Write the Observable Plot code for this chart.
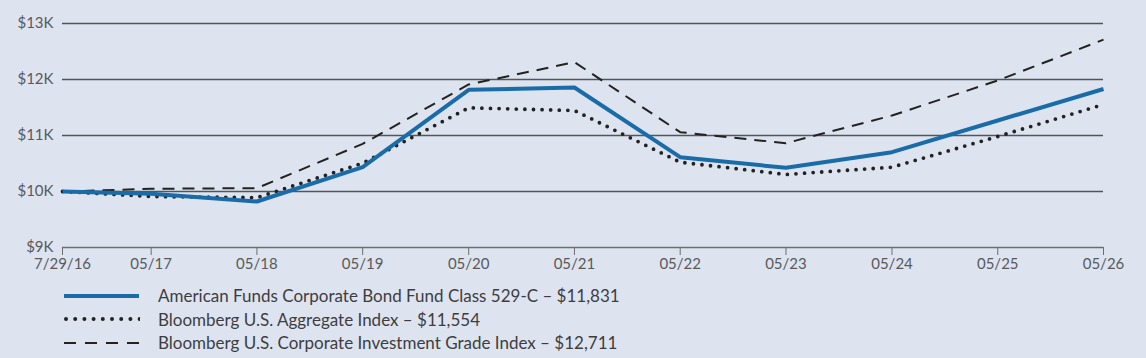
<!DOCTYPE html>
<html>
<head>
<meta charset="utf-8">
<script src="https://cdn.jsdelivr.net/npm/d3@7"></script>
<script src="https://cdn.jsdelivr.net/npm/@observablehq/plot@0.6"></script>
<style>
  html, body { margin: 0; padding: 0; background: #dde4f0; }
  body { width: 1146px; height: 358px; overflow: hidden; font-family: Lato, sans-serif; }
  #legend { position: absolute; left: 64px; top: 284px; }
  .item { display: flex; align-items: center; height: 23.5px; font-size: 17px; color: #3d3d3f; }
  .item svg { margin-right: 18px; flex: none; }
</style>
</head>
<body>
<div id="chart"></div>
<div id="legend"></div>
<script>
const dates = ["2016-07-29","2017-05-31","2018-05-31","2019-05-31","2020-05-31","2021-05-31","2022-05-31","2023-05-31","2024-05-31","2025-05-31","2026-05-31"];
const tickLabels = ["7/29/16","05/17","05/18","05/19","05/20","05/21","05/22","05/23","05/24","05/25","05/26"];
const fundValues = [10000, 9960, 9821, 10434, 11816, 11857, 10613, 10423, 10702, 11268, 11831];
const aggValues  = [10000, 9911, 9890, 10505, 11494, 11446, 10523, 10304, 10434, 10982, 11554];
const corpValues = [10000, 10048, 10060, 10850, 11911, 12309, 11059, 10863, 11357, 11982, 12711];
const seriesNames = [
  "American Funds Corporate Bond Fund Class 529-C \u2013 $11,831",
  "Bloomberg U.S. Aggregate Index \u2013 $11,554",
  "Bloomberg U.S. Corporate Investment Grade Index \u2013 $12,711"
];
const yTicks = [9000, 10000, 11000, 12000, 13000];

const parse = d3.utcParse("%Y-%m-%d");
const toRows = vals => dates.map((d, i) => ({date: parse(d), value: vals[i]}));
const fund = toRows(fundValues), agg = toRows(aggValues), corp = toRows(corpValues);
const tickDates = dates.map(parse);
const labelOf = new Map(tickDates.map((d, i) => [+d, tickLabels[i]]));

const styles = [
  {stroke: "#1a6ca8", strokeWidth: 4, strokeDasharray: null, strokeLinecap: "butt"},
  {stroke: "#222", strokeWidth: 3.8, strokeDasharray: "0,8.6", strokeLinecap: "round"},
  {stroke: "#222", strokeWidth: 2, strokeDasharray: "12,8", strokeLinecap: "butt"}
];

const chart = Plot.plot({
  width: 1146,
  height: 280,
  marginLeft: 62,
  marginRight: 43,
  marginTop: 23,
  marginBottom: 33,
  style: {background: "transparent", fontFamily: "Lato, sans-serif", fontSize: "15px", color: "#58595b"},
  x: {type: "utc", domain: [tickDates[0], tickDates[tickDates.length - 1]]},
  y: {domain: [9000, 13000]},
  marks: [
    Plot.ruleY(yTicks.slice(1), {stroke: "#555", strokeWidth: 1.3}),
    Plot.ruleY([9000], {stroke: "#6d6e71", strokeWidth: 1.5}),
    Plot.axisY({ticks: yTicks, tickSize: 0, tickPadding: 9, tickFormat: d => "$" + d / 1000 + "K", label: null, fontSize: 15}),
    Plot.axisX({ticks: tickDates, tickSize: 8, tickPadding: 3, stroke: "#6d6e71", tickFormat: d => labelOf.get(+d), label: null, fontSize: 15}),
    Plot.line(corp, {x: "date", y: "value", ...styles[2]}),
    Plot.line(agg, {x: "date", y: "value", ...styles[1]}),
    Plot.line(fund, {x: "date", y: "value", ...styles[0]})
  ]
});
document.getElementById("chart").appendChild(chart);

const legend = document.getElementById("legend");
seriesNames.forEach((name, i) => {
  const s = styles[i];
  const item = document.createElement("div");
  item.className = "item";
  const round = s.strokeLinecap === "round";
  const dash = s.strokeDasharray ? (round ? "0,9.2" : "12,9") : null;
  item.innerHTML = `<svg width="76" height="10"><line x1="${round ? 2 : 0}" x2="${round ? 76 : 75}" y1="5" y2="5" stroke="${s.stroke}" stroke-width="${round ? 4 : s.strokeWidth}" ${dash ? `stroke-dasharray="${dash}"` : ''} stroke-linecap="${s.strokeLinecap}"/></svg><span>${name}</span>`;
  legend.appendChild(item);
});
</script>
</body>
</html>
